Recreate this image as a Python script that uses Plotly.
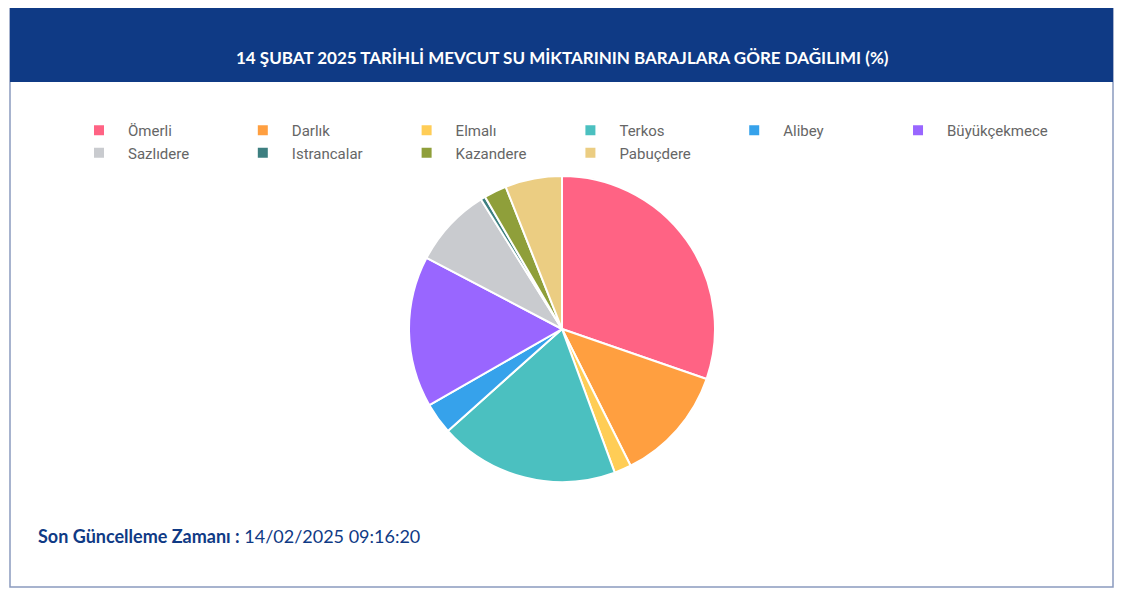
import plotly.graph_objects as go

barajlar = ["Ömerli", "Darlık", "Elmalı", "Terkos", "Alibey", "Büyükçekmece",
            "Sazlıdere", "Istrancalar", "Kazandere", "Pabuçdere"]
oranlar = [30.3, 12.3, 1.8, 19.0, 3.3, 16.0, 8.4, 0.5, 2.4, 6.0]
renkler = ["#ff6384", "#ff9f40", "#ffcd56", "#4bc0c0", "#36a2eb", "#9966ff",
           "#c9cbcf", "#3d7f80", "#8f9f3a", "#ebcd82"]

# page body has an 8px margin, so shift everything by it
OFF = 8
W, H = 1123 - 2 * OFF, 597 - 2 * OFF
def px_x(v): return (v - OFF) / W
def px_y(v): return 1 - (v - OFF) / H

fig = go.Figure(go.Pie(
    labels=barajlar, values=oranlar, sort=False, direction="clockwise", rotation=0,
    marker=dict(colors=renkler, line=dict(color="white", width=2)),
    textinfo="none", hoverinfo="label+value",
    domain=dict(x=[px_x(562) - 0.2, px_x(562) + 0.2], y=[px_y(482), px_y(176)]),
))

fig.update_layout(
    width=W, height=H, margin=dict(l=0, r=0, t=0, b=0),
    paper_bgcolor="white", plot_bgcolor="white",
    font=dict(family="Roboto, sans-serif"),
    legend=dict(orientation="h", x=0.5, xanchor="center", y=px_y(114), yanchor="top",
                font=dict(size=15, color="#666"), itemwidth=48,
                traceorder="normal"),
    shapes=[
        dict(type="rect", xref="paper", yref="paper", x0=px_x(10), x1=px_x(1113),
             y0=px_y(587), y1=px_y(8), line=dict(color="#8a9bbf", width=1.5),
             fillcolor="rgba(0,0,0,0)"),
        dict(type="rect", xref="paper", yref="paper", x0=px_x(10), x1=px_x(1113),
             y0=px_y(82), y1=px_y(8), line=dict(width=0), fillcolor="#0f3a85"),
    ],
    annotations=[
        dict(text="<b>14 ŞUBAT 2025 TARİHLİ MEVCUT SU MİKTARININ BARAJLARA GÖRE DAĞILIMI (%)</b>",
             xref="paper", yref="paper", x=px_x(562), y=px_y(45), showarrow=False,
             font=dict(size=17, color="white", family="Lato, sans-serif")),
        dict(text="<b>Son Güncelleme Zamanı :</b> 14/02/2025 09:16:20",
             xref="paper", yref="paper", x=px_x(36), y=px_y(549), xanchor="left",
             showarrow=False, font=dict(size=18, color="#0f3a85", family="Lato, sans-serif")),
    ],
)
fig.write_html("out.html")
